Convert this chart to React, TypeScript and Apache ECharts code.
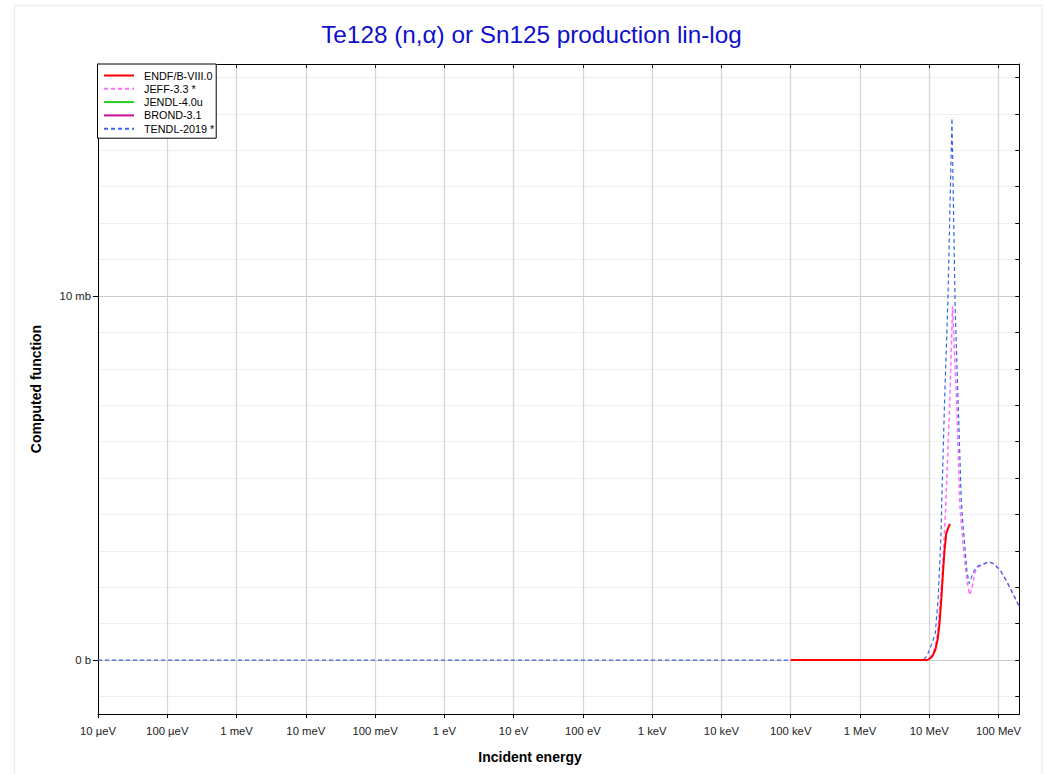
import React, { useEffect, useRef } from "react";
import * as echarts from "echarts";

// ---- data (energies in MeV, values in mb) ----
const endfE = [0.1, 9.0, 9.8, 10.94, 12.2, 13.18, 14.08, 14.9, 15.77, 16.63, 17.6, 19.0, 20.0];
const endfY = [0, 0, 0.02, 0.09, 0.27, 0.55, 1.01, 1.65, 2.38, 3.02, 3.48, 3.66, 3.74];

const jeffE = [0.1, 9.5, 10.94, 12.2, 13.18, 14.08, 15.05, 16.09, 17.02, 19.63, 21.67, 25.1, 27.5, 31.3, 35.0, 38.2, 41.3, 46.1, 51.5, 59.6, 71.8, 84.7, 105.9, 132.3, 164.8, 200];
const jeffY = [0, 0, 0.14, 0.37, 0.73, 1.37, 2.1, 3.02, 3.94, 6.87, 9.72, 6.87, 4.3, 3.02, 2.2, 1.79, 1.97, 2.43, 2.56, 2.63, 2.7, 2.65, 2.47, 2.15, 1.79, 1.46];

const jendlE: number[] = [];
const jendlY: number[] = [];
const brondE: number[] = [];
const brondY: number[] = [];

const tendlE = [1e-11, 1e-6, 0.1, 8.1, 9.27, 10.94, 12.2, 13.4, 14.1, 14.8, 15.2, 16.5, 18.6, 21.27, 23.7, 28.97, 30.3, 35.0, 37.8, 43.6, 49.8, 59.6, 71.8, 84.7, 105.9, 132.3, 164.8, 200];
const tendlY = [0, 0, 0, 0, 0.11, 0.46, 0.73, 1.65, 2.56, 3.49, 4.4, 6.87, 9.89, 14.88, 9.6, 4.4, 3.85, 2.43, 2.1, 2.43, 2.58, 2.63, 2.7, 2.65, 2.47, 2.15, 1.79, 1.46];

// ---- axes ----
const xTickValues = [-5, -4, -3, -2, -1, 0, 1, 2, 3, 4, 5, 6, 7, 8]; // log10(E / eV)
const xTickLabels = ["10 µeV", "100 µeV", "1 meV", "10 meV", "100 meV", "1 eV", "10 eV", "100 eV", "1 keV", "10 keV", "100 keV", "1 MeV", "10 MeV", "100 MeV"];
const xMin = -5;
const xMax = 8.3;

const yMajorValues = [0, 10];
const yMajorLabels = ["0 b", "10 mb"];
const yMinorValues = [-1, 0, 1, 2, 3, 4, 5, 6, 7, 8, 9, 10, 11, 12, 13, 14, 15, 16];
const yMin = -1.48;
const yMax = 16.37;

const seriesNames = ["ENDF/B-VIII.0", "JEFF-3.3 *", "JENDL-4.0u", "BROND-3.1", "TENDL-2019 *"];

const FONT = "'Liberation Sans', Arial, sans-serif";

function toPairs(E: number[], Y: number[]) {
  return E.map((e, i) => [Math.log10(e * 1e6), Y[i]]);
}

export default function App() {
  const ref = useRef<HTMLDivElement>(null);
  useEffect(() => {
    if (!ref.current) return;
    const chart = echarts.init(ref.current, undefined, { renderer: "svg" });
    const minorColors = yMinorValues.map((v) => (yMajorValues.includes(v) ? "#cccccc" : "#efefef"));
    const option: any = {
      animation: false,
      backgroundColor: "#ffffff",
      title: {
        text: "Te128 (n,α) or Sn125 production lin-log",
        left: "center",
        top: 22,
        padding: 0,
        textStyle: { color: "#1010cc", fontSize: 24.3, fontWeight: "normal", fontFamily: FONT },
      },
      graphic: [
        {
          type: "rect",
          shape: { x: 14.5, y: 5.5, width: 1027.5, height: 780 },
          style: { fill: "none", stroke: "#eeeeee", lineWidth: 1.5 },
          silent: true,
          z: -10,
        },
        {
          type: "text",
          x: 36,
          y: 389,
          rotation: Math.PI / 2,
          style: {
            text: "Computed function",
            font: `bold 14px ${FONT}`,
            fill: "#000",
            textAlign: "center",
            textVerticalAlign: "middle",
          },
        },
        {
          type: "text",
          x: 530,
          y: 757,
          style: {
            text: "Incident energy",
            font: `bold 14px ${FONT}`,
            fill: "#000",
            textAlign: "center",
            textVerticalAlign: "middle",
          },
        },
      ],
      legend: {
        data: seriesNames,
        orient: "vertical",
        left: 97.5,
        top: 64,
        padding: [6, 2, 4, 5.5],
        itemWidth: 30,
        itemHeight: 12,
        itemGap: 2.3,
        backgroundColor: "#ffffff",
        borderColor: "#000000",
        borderWidth: 1,
        borderRadius: 0,
        itemStyle: { opacity: 0 },
        lineStyle: { width: 2 },
        textStyle: { fontSize: 10.8, fontFamily: FONT, color: "#000", padding: [0, 0, 0, 5] },
        z: 20,
      },
      grid: {
        left: 98,
        right: 43.7,
        top: 64,
        bottom: 60,
        containLabel: false,
        outerBoundsMode: "none",
      },
      xAxis: [
        {
          type: "value",
          position: "bottom",
          min: xMin,
          max: xMax,
          axisLine: { show: true, onZero: false, lineStyle: { color: "#000", width: 1 } },
          axisTick: { show: true, inside: false, length: 4, customValues: xTickValues, lineStyle: { color: "#000" } },
          axisLabel: {
            show: true,
            customValues: xTickValues,
            margin: 11,
            fontSize: 11.3,
            fontFamily: FONT,
            color: "#222",
            formatter: (v: number) => {
              const i = xTickValues.indexOf(Math.round(v));
              return i >= 0 ? xTickLabels[i] : "";
            },
          },
          splitLine: { show: true, lineStyle: { color: "#d4d4d4", width: 1.2 } },
        },
        {
          type: "value",
          position: "top",
          min: xMin,
          max: xMax,
          axisLine: { show: true, onZero: false, lineStyle: { color: "#000", width: 1 } },
          axisTick: { show: true, inside: true, length: 4, customValues: xTickValues, lineStyle: { color: "#000" } },
          axisLabel: { show: false },
          splitLine: { show: false },
        },
      ],
      yAxis: [
        {
          type: "value",
          position: "left",
          min: yMin,
          max: yMax,
          axisLine: { show: true, onZero: false, lineStyle: { color: "#000", width: 1 } },
          axisTick: { show: true, inside: false, length: 5, customValues: yMajorValues, lineStyle: { color: "#000" } },
          axisLabel: {
            show: true,
            customValues: yMajorValues,
            margin: 7,
            fontSize: 11.3,
            fontFamily: FONT,
            color: "#222",
            formatter: (v: number) => {
              const i = yMajorValues.indexOf(Math.round(v));
              return i >= 0 ? yMajorLabels[i] : "";
            },
          },
          splitLine: { show: true, lineStyle: { color: "#cccccc", width: 1 } },
        },
        {
          type: "value",
          position: "right",
          min: yMin,
          max: yMax,
          axisLine: { show: true, onZero: false, lineStyle: { color: "#000", width: 1 } },
          axisTick: { show: true, inside: true, length: 4, customValues: yMinorValues, lineStyle: { color: "#000" } },
          axisLabel: { show: false },
          splitLine: { show: true, lineStyle: { color: minorColors, width: 1 } },
        },
      ],
      series: [
        {
          name: seriesNames[0],
          type: "line",
          data: toPairs(endfE, endfY),
          symbol: "none",
          z: 6,
          lineStyle: { color: "#ff0000", width: 2 },
          itemStyle: { color: "#ff0000" },
        },
        {
          name: seriesNames[1],
          type: "line",
          data: toPairs(jeffE, jeffY),
          symbol: "none",
          z: 3,
          lineStyle: { color: "#ff70ff", width: 1.5, type: [4, 3] },
          itemStyle: { color: "#ff70ff" },
        },
        {
          name: seriesNames[2],
          type: "line",
          data: toPairs(jendlE, jendlY),
          symbol: "none",
          z: 3,
          lineStyle: { color: "#22cc22", width: 2 },
          itemStyle: { color: "#22cc22" },
        },
        {
          name: seriesNames[3],
          type: "line",
          data: toPairs(brondE, brondY),
          symbol: "none",
          z: 3,
          lineStyle: { color: "#c8109c", width: 2 },
          itemStyle: { color: "#c8109c" },
        },
        {
          name: seriesNames[4],
          type: "line",
          data: toPairs(tendlE, tendlY),
          symbol: "none",
          z: 4,
          lineStyle: { color: "#3a66e8", width: 1.2, type: [4, 3] },
          itemStyle: { color: "#3a66e8" },
        },
      ],
    };
    chart.setOption(option);
    return () => chart.dispose();
  }, []);
  return (
    <div
      ref={ref}
      style={{ position: "fixed", left: 0, top: 0, width: 1063, height: 774, background: "#fff" }}
    />
  );
}
